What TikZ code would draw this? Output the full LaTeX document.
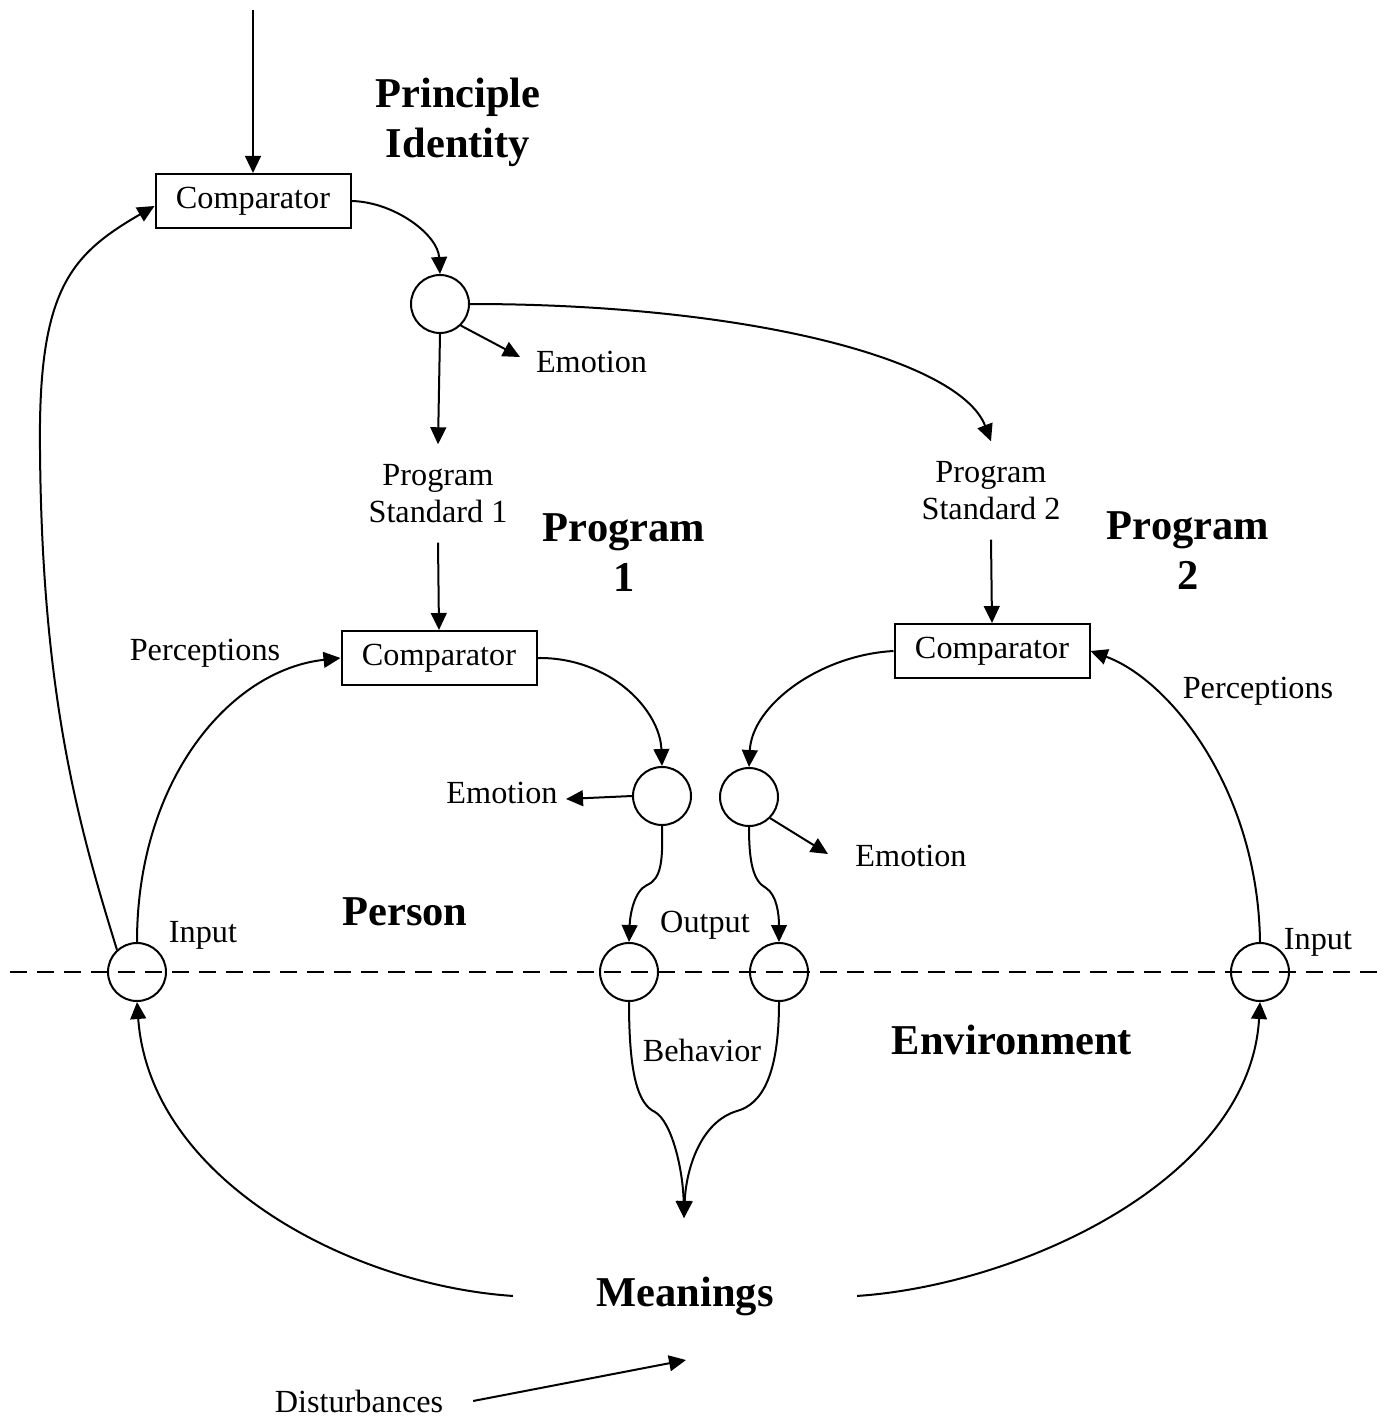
\documentclass[tikz,border=0pt]{standalone}
\usepackage{fontspec}
\setmainfont{Liberation Serif}
\usetikzlibrary{arrows.meta}
\begin{document}
\begin{tikzpicture}[x=0.4pt,y=-0.4pt, line width=0.8pt,
  arr/.style={-{Triangle[length=6.8pt,width=6.3pt]}},
  comp/.style={draw, minimum width=78pt, minimum height=21.6pt, inner sep=0pt, font=\fontsize{12.9}{15}\selectfont},
  circ/.style={draw, circle, minimum size=23.2pt, inner sep=0pt},
  lbl/.style={font=\fontsize{12.9}{15}\selectfont, inner sep=0pt, anchor=base},
  big/.style={font=\fontsize{17}{20}\selectfont\bfseries, align=center, inner sep=0pt},
  std/.style={font=\fontsize{12.9}{14.8}\selectfont, align=center, inner xsep=0pt, inner ysep=7.6pt},
  dashline/.style={dash pattern=on 6.8pt off 4pt}
]
\useasboundingbox (0,0) rectangle (1394,1418);

% coordinates for free ends
\coordinate (topin) at (253,10);
\coordinate (e1tip) at (520,357);
\coordinate (e2tip) at (566,799);
\coordinate (e3tip) at (828,854);
\coordinate (meet) at (684,1218);
\coordinate (dtip) at (686,1360);
\coordinate (dl) at (10,972);
\coordinate (dr) at (1385,972);

% boundary line
\draw[dashline] (dl) -- (dr);

% comparators
\node[comp] (comp1) at (253,201) {Comparator};
\node[comp] (comp2) at (439,658) {Comparator};
\node[comp] (comp3) at (992,651) {Comparator};

% circles
\node[circ] (c0) at (440,304) {};
\node[circ] (cA) at (662,796) {};
\node[circ] (cB) at (749,797) {};
\node[circ] (cC) at (629,972) {};
\node[circ] (cD) at (779,972) {};
\node[circ] (cE) at (137,972) {};
\node[circ] (cF) at (1260,972) {};

% standards
\node[std] (ps1) at (438,493.5) {Program\\Standard 1};
\node[std] (ps2) at (991,490.5) {Program\\Standard 2};

% bold labels
\node[big] (pid) at (458,122.5) {Principle\\Identity};
\node[big] (prog1) at (624,553) {Program\\1};
\node[big] (prog2) at (1188,550.5) {Program\\2};
\node[big, anchor=base] (person) at (405,925) {Person};
\node[big, anchor=base] (env) at (1012,1054) {Environment};
\node[big, anchor=base, inner xsep=33pt] (mean) at (685,1306) {Meanings};

% small labels
\node[lbl, anchor=base west] (emo1) at (535,372) {Emotion};
\node[lbl] (emo2) at (502,803) {Emotion};
\node[lbl] (emo3) at (911,866) {Emotion};
\node[lbl] (perc1) at (205,660) {Perceptions};
\node[lbl] (perc2) at (1258,698) {Perceptions};
\node[lbl] (in1) at (203,942) {Input};
\node[lbl] (in2) at (1318,949) {Input};
\node[lbl] (outp) at (705,932) {Output};
\node[lbl] (beh) at (702,1061) {Behavior};
\node[lbl] (dist) at (359,1412) {Disturbances};

% top hierarchy
\draw[arr] (topin) -- (comp1.north);
\draw[arr] (comp1.east) .. controls (395,202) and (438,235) .. (c0.north);
\draw[arr] (c0.-46) -- (e1tip);
\draw[arr] (c0.south) -- (ps1.north);
\draw[arr] (c0.east) .. controls (750,304) and (960,360) .. (ps2.north);
\draw[arr] (ps1.south) -- (comp2.north);
\draw[arr] (ps2.south) -- (comp3.north);

% program comparators to circles
\draw[arr] (comp2.east) .. controls (610,657) and (660,710) .. (cA.north);
\draw[arr] (comp3.west) .. controls (820,655) and (752,705) .. (cB.north);
\draw[arr] (cA.west) -- (e2tip);
\draw[arr] (cB.-45) -- (e3tip);

% outputs
\draw[arr] (cA.south) .. controls (663,862) and (661,879) .. (647,885)
                      .. controls (634,891) and (630,915) .. (cC.north);
\draw[arr] (cB.south) .. controls (749,862) and (753,881) .. (766,888)
                      .. controls (777,895) and (779,915) .. (cD.north);

% behavior
\draw[arr] (cC.south) .. controls (629,1075) and (638,1104) .. (655,1112)
                      .. controls (672,1122) and (683,1170) .. (meet);
\draw[arr] (cD.south) .. controls (779,1075) and (762,1104) .. (737,1111)
                      .. controls (700,1122) and (686,1170) .. (meet);

% perceptions
\draw[arr] (cE.north) .. controls (137,780) and (230,670) .. (comp2.west);
\draw[arr] (cF.north) .. controls (1258,790) and (1170,680) .. (comp3.east);
\draw[arr] (cE.132) .. controls (80,830) and (42,700) .. (40,450)
                    .. controls (38,290) and (70,255) .. ([yshift=-2pt]comp1.west);

% meanings to inputs
\draw[arr] (mean.west) .. controls (350,1285) and (150,1180) .. (cE.south);
\draw[arr] (mean.east) .. controls (1020,1285) and (1250,1180) .. (cF.south);

% disturbances
\draw[arr] ([xshift=11.6pt]dist.east) -- (dtip);
\end{tikzpicture}
\end{document}
